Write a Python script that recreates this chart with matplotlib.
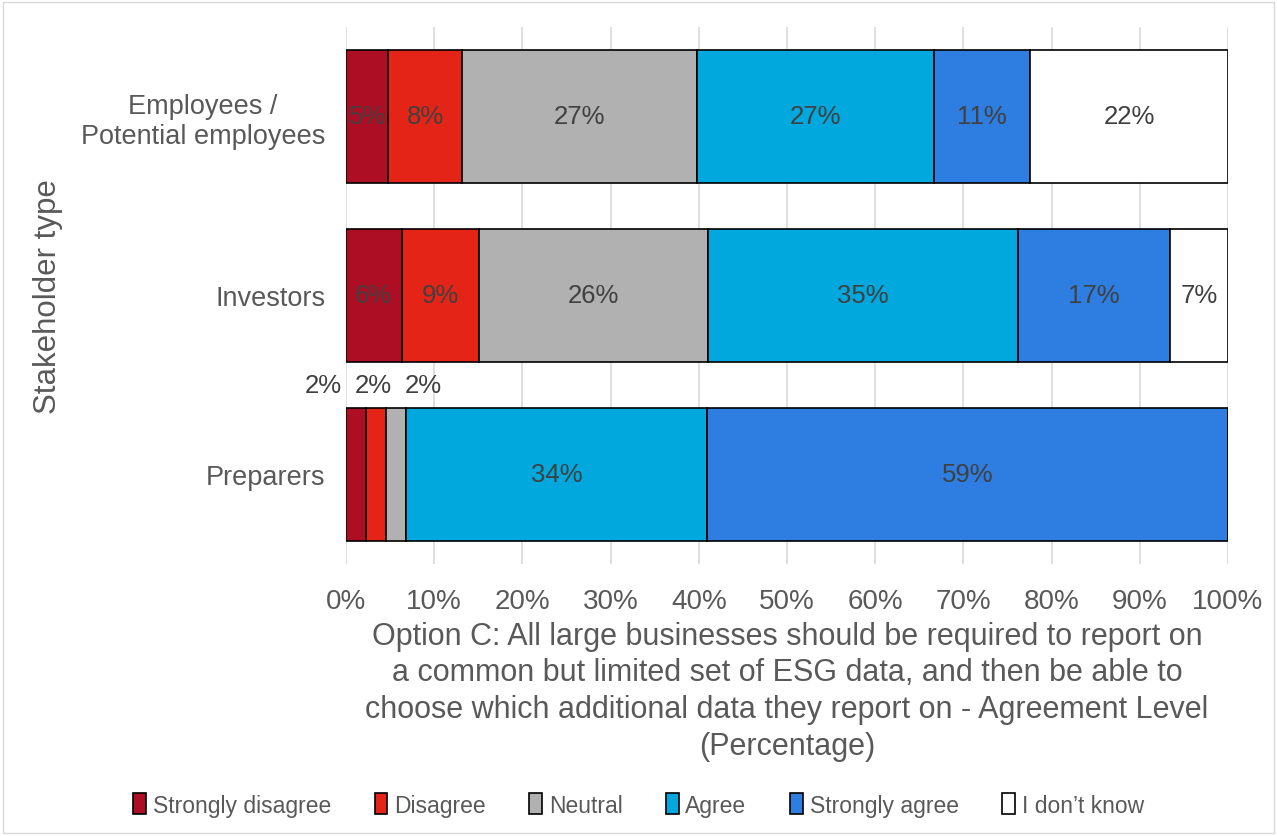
import matplotlib
matplotlib.use("Agg")
import matplotlib.pyplot as plt
from matplotlib.patches import Rectangle
from matplotlib.ticker import PercentFormatter

plt.rcParams['font.family'] = ['Liberation Sans', 'DejaVu Sans']

stakeholders = ['Employees /\nPotential employees', 'Investors', 'Preparers']
levels = ['Strongly disagree', 'Disagree', 'Neutral', 'Agree', 'Strongly agree', 'I don\u2019t know']
colors = ['#AE0E23', '#E32416', '#B1B1B1', '#00A8DE', '#2E7DE1', '#FFFFFF']

strongly_disagree = [4.8, 6.3, 2.3]
disagree = [8.4, 8.8, 2.2]
neutral = [26.6, 25.9, 2.3]
agree = [26.9, 35.2, 34.1]
strongly_agree = [10.9, 17.2, 59.1]
dont_know = [22.4, 6.6, 0.0]

series = [strongly_disagree, disagree, neutral, agree, strongly_agree, dont_know]
text_col = '#595959'

fig = plt.figure(figsize=(12.77, 8.37), dpi=100)
ax = fig.add_axes([346 / 1277, 1 - 565 / 837, (1228 - 346) / 1277, (565 - 28) / 837])

ypos = [0, 1, 2]
left = [0.0, 0.0, 0.0]
small_x = [-2.6, 3.1, 8.8]
for k, (name, vals, col) in enumerate(zip(levels, series, colors)):
    ax.barh(ypos, vals, left=left, height=0.745, color=col,
            edgecolor='black', linewidth=1.2, label=name, zorder=3)
    for i, (v, l) in enumerate(zip(vals, left)):
        if v <= 0:
            continue
        txt = f'{round(v):.0f}%'
        if v < 4:
            # thin preparer segments get their labels above the bar
            ax.text(small_x[k], i - 0.5, txt, ha='center', va='center',
                    fontsize=18.5, color='#404040', zorder=4, clip_on=False)
        else:
            ax.text(l + v / 2, i, txt, ha='center', va='center',
                    fontsize=18.5, color='#404040', zorder=4)
    left = [a + b for a, b in zip(left, vals)]

ax.set_xlim(0, 100)
ax.set_ylim(2.5, -0.5)
ax.set_xticks(range(0, 101, 10))
ax.xaxis.set_major_formatter(PercentFormatter(decimals=0))
ax.set_yticks(ypos)
ax.set_yticklabels(stakeholders, fontsize=19.5, color=text_col, multialignment='center')
ax.tick_params(axis='x', labelsize=20, labelcolor=text_col, length=0, pad=17)
ax.tick_params(axis='y', length=0, pad=15)
ax.grid(axis='x', color='#D9D9D9', linewidth=1.2, zorder=0)
for s in ax.spines.values():
    s.set_visible(False)

ax.set_xlabel('Option C: All large businesses should be required to report on\n'
              'a common but limited set of ESG data, and then be able to\n'
              'choose which additional data they report on - Agreement Level\n'
              '(Percentage)', fontsize=22, color=text_col, labelpad=5, linespacing=1.3)
fig.text(48 / 1277, 1 - 297 / 837, 'Stakeholder type', rotation=90, ha='center',
         va='center', fontsize=22.5, color=text_col)

leg = fig.legend(loc='center', bbox_to_anchor=(0.5, 1 - 806 / 837), ncol=6,
                 frameon=False, handlelength=0.55, handleheight=1.0,
                 handletextpad=0.3, columnspacing=1.9,
                 prop={'family': ['Liberation Sans Narrow', 'Liberation Sans'], 'size': 16.5})
for t in leg.get_texts():
    t.set_color(text_col)

fig.patches.append(Rectangle((3 / 1277, 3 / 837), 1 - 6 / 1277, 1 - 6 / 837,
                             transform=fig.transFigure, fill=False,
                             edgecolor='#D9D9D9', linewidth=1))

fig.savefig('out.png', dpi=100)
